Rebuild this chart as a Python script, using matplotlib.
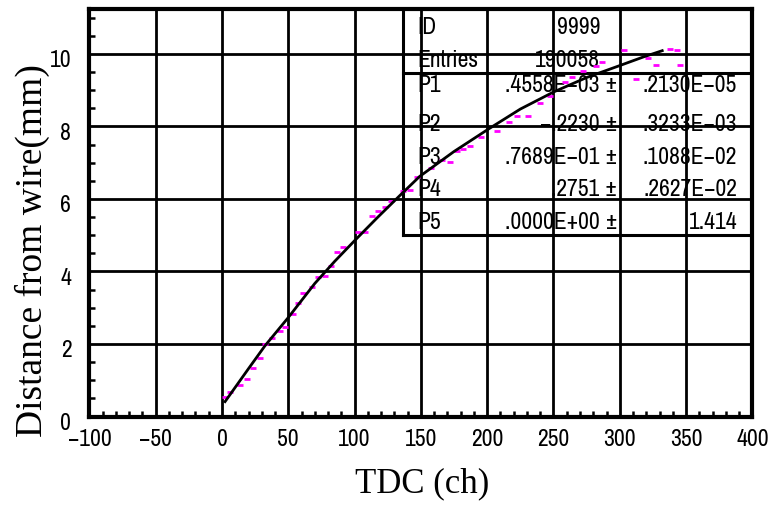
import matplotlib
matplotlib.use("Agg")
import matplotlib.pyplot as plt
from matplotlib import font_manager
from matplotlib.ticker import MultipleLocator, FixedLocator
from matplotlib.transforms import ScaledTranslation

# Profile of drift distance vs. TDC channel (bin means)
tdc_points = [2.3, 6.0, 13.6, 18.6, 23.6, 28.7, 32.4, 37.5, 43.7, 47.5, 53.3, 57.1,
              61.3, 67.6, 72.4, 77.7, 82.2, 87.1, 91.5, 102.8, 107.8, 112.9, 117.9,
              122.9, 127.1, 136.7, 141.8, 146.8, 157.6, 165.7, 171.9, 177.0, 182.0,
              187.0, 195.3, 207.2, 216.4, 222.2, 230.8, 239.8, 247.4, 258.7, 264.0,
              272.5, 282.1, 286.6, 303.2, 312.2, 321.3, 327.3, 337.9, 343.1, 345.4]
dist_points = [0.53, 0.67, 0.87, 1.03, 1.33, 1.61, 2.00, 2.16, 2.35, 2.46, 2.84, 3.13,
               3.41, 3.56, 3.85, 3.88, 4.15, 4.55, 4.68, 5.08, 5.09, 5.52, 5.67,
               5.79, 5.94, 6.23, 6.26, 6.60, 6.86, 7.08, 7.03, 7.33, 7.39,
               7.46, 7.70, 7.88, 8.12, 8.30, 8.28, 8.65, 8.85, 9.23, 9.37,
               9.53, 9.67, 9.78, 10.11, 9.31, 9.89, 9.70, 10.14, 10.11, 9.70]

# Fitted x-t relation
fit_tdc = [2.3, 20, 32.4, 50, 70, 85, 100, 117, 134, 149, 175, 201, 225, 250, 275, 300, 318, 332]
fit_dist = [0.41, 1.32, 1.95, 2.73, 3.67, 4.28, 4.85, 5.48, 6.09, 6.62, 7.31, 7.93, 8.48,
            8.95, 9.35, 9.68, 9.92, 10.09]

x_ticks = [-100, -50, 0, 50, 100, 150, 200, 250, 300, 350, 400]
y_ticks = [0, 2, 4, 6, 8, 10]

stat_names = ["ID", "Entries"]
stat_values = ["9999", "190058"]
param_names = ["P1", "P2", "P3", "P4", "P5"]
param_values = [".4558E\u221203 \u00b1", "\u2212.2230 \u00b1", ".7689E\u221201 \u00b1",
                ".2751 \u00b1", ".0000E+00 \u00b1"]
param_errors = [".2130E\u221205", ".3233E\u221203", ".1088E\u221202", ".2627E\u221202", "1.414"]

# narrow sans for tick labels and the statistics box
_installed = {f.name for f in font_manager.fontManager.ttflist}
sans, base = ["DejaVu Sans"], 12
for fam, size in [("Liberation Sans Narrow", 17), ("Archivo Narrow", 17),
                  ("Roboto Condensed", 16)]:
    if fam in _installed:
        sans, base = [fam, "DejaVu Sans"], size
        break
serif = ["Liberation Serif", "DejaVu Serif"]

fig = plt.figure(figsize=(7.69, 5.06), dpi=100)
ax = fig.add_axes([0.11625, 0.1749, 0.86216, 0.80534])
ax.set_xlim(-100, 400)
ax.set_ylim(0, 11.24)

ax.xaxis.set_major_locator(FixedLocator(x_ticks))
ax.yaxis.set_major_locator(FixedLocator(y_ticks))
ax.xaxis.set_minor_locator(MultipleLocator(10))
ax.yaxis.set_minor_locator(MultipleLocator(0.5))
ax.tick_params(which="major", length=0, labelsize=base, pad=8)
ax.tick_params(which="minor", direction="in", length=4.5, width=1.8, color="k")
ax.tick_params(axis="y", which="major", pad=13)
for lab in ax.get_xticklabels() + ax.get_yticklabels():
    lab.set_fontfamily(sans)
    lab.set_fontweight("bold")
for lab in ax.get_yticklabels():
    lab.set_transform(lab.get_transform() + ScaledTranslation(0, -4 / 100, fig.dpi_scale_trans))

ax.grid(True, which="major", color="k", lw=2.0)
ax.set_axisbelow(True)
for sp in ax.spines.values():
    sp.set_linewidth(3)

# statistics box (transparent, framed by the axes on top and right)
bx_left, bx_sep, bx_bottom = 136.5, 9.48, 5.0
ax.plot([bx_left, bx_left], [bx_bottom, 11.24], color="k", lw=2.2, zorder=3, clip_on=False)
ax.plot([bx_left, 400], [bx_sep, bx_sep], color="k", lw=2.2, zorder=3)
ax.plot([bx_left, 400], [bx_bottom, bx_bottom], color="k", lw=2.2, zorder=3)

txt_kw = dict(fontsize=base, fontfamily=sans, fontweight="bold", va="center", zorder=3)
stat_rows = [10.76, 9.86]
for name, val, yy in zip(stat_names, stat_values, stat_rows):
    ax.text(147.1, yy, name, ha="left", **txt_kw)
    ax.text(285.1, yy, val, ha="right", **txt_kw)
param_rows = [9.15, 8.07, 7.16, 6.28, 5.39]
for name, val, err, yy in zip(param_names, param_values, param_errors, param_rows):
    ax.text(147.1, yy, name, ha="left", **txt_kw)
    ax.text(298.6, yy, val, ha="right", **txt_kw)
    ax.text(388.4, yy, err, ha="right", **txt_kw)

ax.plot(tdc_points, dist_points, ls="none", marker="_", ms=4.5, mew=2.0,
        color="#ff00ff", zorder=4)
ax.plot(fit_tdc, fit_dist, color="k", lw=2.0, zorder=5)

ax.set_xlabel("TDC (ch)", fontfamily=serif, fontsize=25, va="center")
ax.xaxis.set_label_coords(0.5017, -0.163)
ax.set_ylabel("Distance from wire(mm)", fontfamily=serif, fontsize=27, va="center")
ax.yaxis.set_label_coords(-0.0866, 0.4086)

fig.savefig("out.png", dpi=100)
